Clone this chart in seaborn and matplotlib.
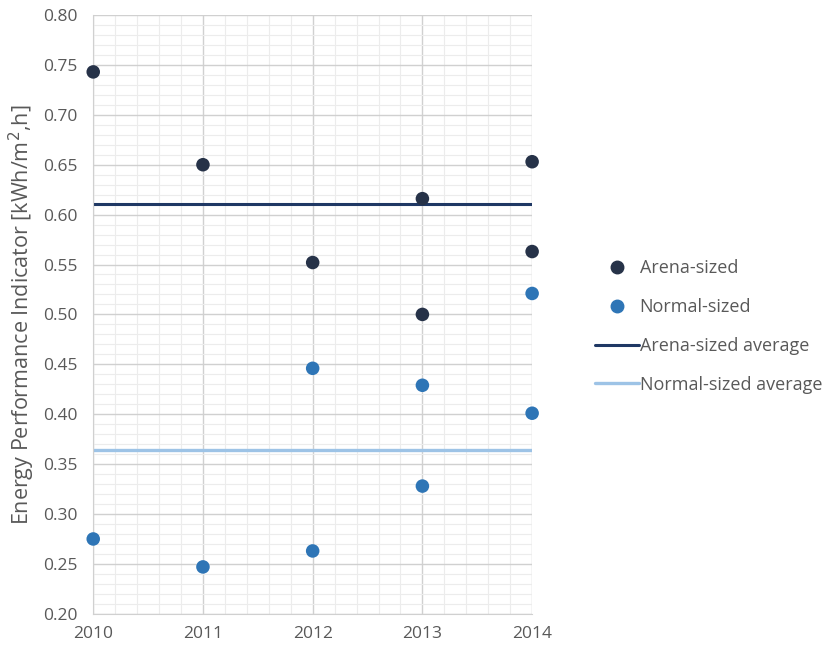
import pandas as pd
import matplotlib.pyplot as plt
import matplotlib.ticker as mticker
from matplotlib.lines import Line2D
import seaborn as sns

# values
arena_years = [2010, 2011, 2012, 2013, 2013, 2014, 2014]
arena_epi = [0.743, 0.650, 0.552, 0.616, 0.500, 0.653, 0.563]
normal_years = [2010, 2011, 2012, 2012, 2013, 2013, 2014, 2014]
normal_epi = [0.275, 0.247, 0.446, 0.263, 0.429, 0.328, 0.521, 0.401]
arena_avg = 0.611
normal_avg = 0.364

df = pd.concat([
    pd.DataFrame({'Year': arena_years, 'EPI': arena_epi, 'Type': 'Arena-sized'}),
    pd.DataFrame({'Year': normal_years, 'EPI': normal_epi, 'Type': 'Normal-sized'}),
])

sns.set_style("white")
plt.rcParams['font.family'] = ['Open Sans', 'DejaVu Sans']

c_arena = '#263248'
c_normal = '#2e75b6'
c_arena_avg = '#1f3864'
c_normal_avg = '#9dc3e6'
txt = '#595959'

fig = plt.figure(figsize=(8.25, 6.53), dpi=100)
ax = fig.add_axes([0.113, 0.06, 0.532, 0.917])

ax.axhline(arena_avg, color=c_arena_avg, lw=2.2, zorder=2)
ax.axhline(normal_avg, color=c_normal_avg, lw=2.4, zorder=2)
sns.scatterplot(data=df, x='Year', y='EPI', hue='Type', ax=ax,
                palette={'Arena-sized': c_arena, 'Normal-sized': c_normal},
                s=95, edgecolor='none', legend=False, zorder=3, clip_on=False)

ax.set_xlim(2010, 2014)
ax.set_ylim(0.20, 0.80)
ax.xaxis.set_major_locator(mticker.MultipleLocator(1))
ax.xaxis.set_minor_locator(mticker.MultipleLocator(0.2))
ax.yaxis.set_major_locator(mticker.MultipleLocator(0.05))
ax.yaxis.set_minor_locator(mticker.MultipleLocator(0.01))
ax.yaxis.set_major_formatter(mticker.FormatStrFormatter('%.2f'))
ax.xaxis.set_major_formatter(mticker.FormatStrFormatter('%d'))

ax.grid(which='major', color='#d0d0d0', lw=1.0)
ax.grid(which='minor', color='#ececec', lw=0.8)
ax.set_axisbelow(True)
for s in ['top', 'right']:
    ax.spines[s].set_visible(False)
for s in ['left', 'bottom']:
    ax.spines[s].set_color('#d0d0d0')
ax.tick_params(which='major', length=5, color='#d0d0d0', labelsize=12.5, labelcolor=txt)
ax.tick_params(axis='y', pad=6)
ax.tick_params(which='minor', length=0)
ax.set_xlabel('')
ax.set_ylabel('Energy Performance Indicator [kWh/m$^2$,h]', fontsize=15.5, color=txt,
              labelpad=5)

handles = [
    Line2D([], [], ls='', marker='o', ms=9, color=c_arena),
    Line2D([], [], ls='', marker='o', ms=9, color=c_normal),
    Line2D([], [], color=c_arena_avg, lw=2.2),
    Line2D([], [], color=c_normal_avg, lw=2.4),
]
labels = ['Arena-sized', 'Normal-sized', 'Arena-sized average', 'Normal-sized average']
leg = fig.legend(handles, labels, loc='center left', bbox_to_anchor=(0.702, 0.5),
                 frameon=False, fontsize=13, labelspacing=1.15, handlelength=2.4,
                 handletextpad=0.05)
for t in leg.get_texts():
    t.set_color(txt)

fig.savefig('out.png', dpi=100)
